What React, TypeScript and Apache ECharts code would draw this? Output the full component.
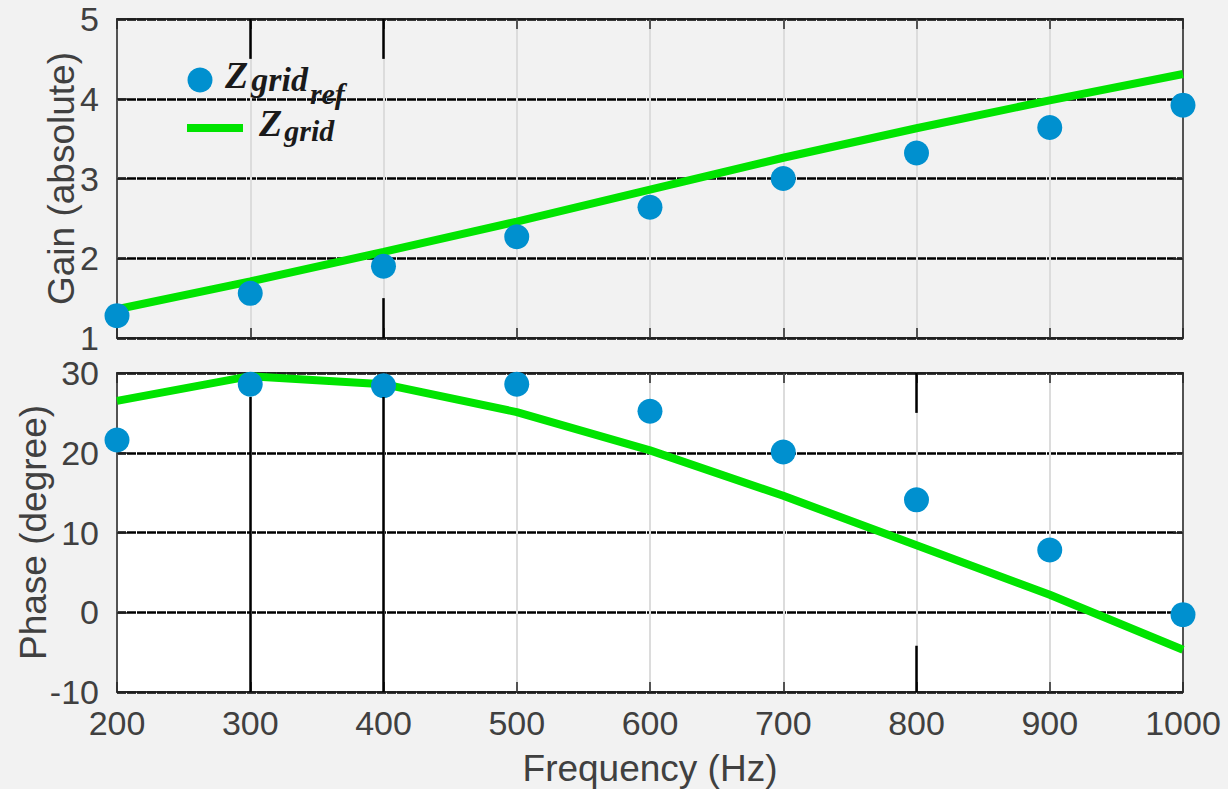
import React, { useEffect, useRef } from "react";
import * as echarts from "echarts";

const freqs = [200, 300, 400, 500, 600, 700, 800, 900, 1000];
const gainRef = [1.28, 1.56, 1.9, 2.27, 2.64, 3.0, 3.32, 3.64, 3.92];
const gainModel = [1.36, 1.71, 2.08, 2.46, 2.86, 3.26, 3.63, 3.98, 4.31];
const phaseRef = [21.6, 28.6, 28.4, 28.6, 25.2, 20.1, 14.1, 7.8, -0.3];
const phaseModel = [26.5, 29.6, 28.6, 25.1, 20.3, 14.6, 8.4, 2.2, -4.7];
const gainTicks = { min: 1, max: 5, interval: 1 };
const phaseTicks = { min: -10, max: 30, interval: 10 };
const freqTicks = { min: 200, max: 1000, interval: 100 };
// dark gridline segments visible in the original rendering (data coords)
const darkPhaseSegments = [
  [300, 27, 300, -10],
  [400, 27, 400, -10],
  [800, 30, 800, 25],
  [800, -4.2, 800, -10],
];
const darkGainSegments = [
  [300, 5, 300, 4.5],
  [400, 5, 400, 4.5],
  [400, 1.5, 400, 1],
];

const BLUE = "#0090cf";
const GREEN = "#00e400";
const TXT = "#404040";
const FONT = "'Liberation Sans', Arial, sans-serif";
const SERIF = "'Liberation Serif', 'Times New Roman', serif";

export default function App() {
  const ref = useRef<HTMLDivElement>(null);
  useEffect(() => {
    const chart = echarts.init(ref.current!, null, { renderer: "svg" });
    const pair = (xs: number[], ys: number[]) => xs.map((x, i) => [x, ys[i]]);
    const segs = (s: number[][]) =>
      s.map((a) => [{ coord: [a[0], a[1]] }, { coord: [a[2], a[3]] }]);

    const tick = { show: true, inside: true, length: 10, lineStyle: { color: "#262626", width: 1.5 } };
    const line = { show: true, onZero: false, lineStyle: { color: "#262626", width: 1.5 } };

    const mainX = (gridIndex: number, showLabels: boolean, name?: string) => ({
      type: "value",
      gridIndex,
      ...freqTicks,
      position: "bottom",
      name: name || "",
      nameLocation: "middle",
      nameGap: 58,
      nameTextStyle: { color: TXT, fontSize: 37, fontFamily: FONT },
      axisLine: line,
      axisTick: tick,
      axisLabel: {
        show: showLabels,
        color: TXT,
        fontSize: 34,
        fontFamily: FONT,
        margin: 14,
        formatter: (v: number) => String(v),
      },
      splitLine: { show: true, lineStyle: { color: "#dcdcdc", width: 2 } },
    });
    const topX = (gridIndex: number) => ({
      type: "value",
      gridIndex,
      ...freqTicks,
      position: "top",
      axisLine: line,
      axisTick: tick,
      axisLabel: { show: false },
      splitLine: { show: false },
    });
    const mainY = (gridIndex: number, ticks: any, name: string, gap: number) => ({
      type: "value",
      gridIndex,
      ...ticks,
      position: "left",
      name,
      nameLocation: "middle",
      nameGap: gap,
      nameMoveOverlap: false,
      nameTextStyle: { color: TXT, fontSize: 37, fontFamily: FONT },
      axisLine: line,
      axisTick: tick,
      axisLabel: { color: TXT, fontSize: 34, fontFamily: FONT, margin: 18 },
      splitLine: { show: true, lineStyle: { color: "#000000", width: 2.5, type: [9, 1] } },
    });
    const rightY = (gridIndex: number, ticks: any) => ({
      type: "value",
      gridIndex,
      ...ticks,
      position: "right",
      axisLine: line,
      axisTick: tick,
      axisLabel: { show: false },
      splitLine: { show: false },
    });

    const darkLine = (s: number[][]) => ({
      silent: true,
      symbol: ["none", "none"],
      label: { show: false },
      lineStyle: { color: "#000", width: 2.5, type: "solid" },
      data: segs(s),
    });

    chart.setOption({
      animation: false,
      backgroundColor: "#f2f2f2",
      grid: [
        { left: 117, top: 19, width: 1066, height: 319, show: true, backgroundColor: "#f2f2f2", borderColor: "#262626", borderWidth: 1.5, containLabel: false, outerBoundsMode: "none" },
        { left: 117, top: 373, width: 1066, height: 319, show: true, backgroundColor: "#ffffff", borderColor: "#262626", borderWidth: 1.5, containLabel: false, outerBoundsMode: "none" },
      ],
      xAxis: [mainX(0, false), topX(0), mainX(1, true, "Frequency (Hz)"), topX(1)],
      yAxis: [
        mainY(0, gainTicks, "Gain (absolute)", 37),
        rightY(0, gainTicks),
        mainY(1, phaseTicks, "Phase (degree)", 65),
        rightY(1, phaseTicks),
      ],
      series: [
        {
          type: "line",
          xAxisIndex: 0,
          yAxisIndex: 0,
          data: pair(freqs, gainRef),
          lineStyle: { opacity: 0 },
          symbol: "none",
          markLine: darkLine(darkGainSegments),
          z: 1,
        },
        {
          type: "line",
          xAxisIndex: 2,
          yAxisIndex: 2,
          data: pair(freqs, phaseRef),
          lineStyle: { opacity: 0 },
          symbol: "none",
          markLine: darkLine(darkPhaseSegments),
          z: 1,
        },
        {
          name: "Zgrid",
          type: "line",
          xAxisIndex: 0,
          yAxisIndex: 0,
          data: pair(freqs, gainModel),
          showSymbol: false,
          symbol: "none",
          lineStyle: { color: GREEN, width: 8 },
          z: 3,
        },
        {
          name: "Zgrid_ref",
          type: "scatter",
          xAxisIndex: 0,
          yAxisIndex: 0,
          data: pair(freqs, gainRef),
          symbol: "circle",
          symbolSize: 25,
          itemStyle: { color: BLUE, opacity: 1 },
          z: 4,
        },
        {
          name: "Zgrid",
          type: "line",
          xAxisIndex: 2,
          yAxisIndex: 2,
          data: pair(freqs, phaseModel),
          showSymbol: false,
          symbol: "none",
          lineStyle: { color: GREEN, width: 8 },
          z: 3,
        },
        {
          name: "Zgrid_ref",
          type: "scatter",
          xAxisIndex: 2,
          yAxisIndex: 2,
          data: pair(freqs, phaseRef),
          symbol: "circle",
          symbolSize: 25,
          itemStyle: { color: BLUE, opacity: 1 },
          z: 4,
        },
      ],
      graphic: [
        { type: "circle", shape: { cx: 200, cy: 80, r: 12.5 }, style: { fill: BLUE }, z: 10 },
        { type: "rect", shape: { x: 187, y: 124, width: 56, height: 8 }, style: { fill: GREEN }, z: 10 },
        {
          type: "text",
          left: 225,
          top: 56,
          z: 10,
          style: {
            text: "{z|Z}{g|grid}{r|ref}",
            rich: {
              z: { fontFamily: SERIF, fontStyle: "italic", fontWeight: "bold", fontSize: 38, fill: "#1a1a1a", verticalAlign: "bottom", lineHeight: 40 },
              g: { fontFamily: SERIF, fontStyle: "italic", fontWeight: "bold", fontSize: 34, fill: "#1a1a1a", verticalAlign: "bottom", lineHeight: 40, padding: [0, 0, -2, 3] },
              r: { fontFamily: SERIF, fontStyle: "italic", fontWeight: "bold", fontSize: 30, fill: "#1a1a1a", verticalAlign: "bottom", lineHeight: 40, padding: [0, 0, -14, 2] },
            },
          },
        },
        {
          type: "text",
          left: 259,
          top: 104,
          z: 10,
          style: {
            text: "{z|Z}{g|grid}",
            rich: {
              z: { fontFamily: SERIF, fontStyle: "italic", fontWeight: "bold", fontSize: 38, fill: "#1a1a1a", verticalAlign: "bottom", lineHeight: 40 },
              g: { fontFamily: SERIF, fontStyle: "italic", fontWeight: "bold", fontSize: 30, fill: "#1a1a1a", verticalAlign: "bottom", lineHeight: 40, padding: [0, 0, -3, 2] },
            },
          },
        },
      ],
    });
    return () => chart.dispose();
  }, []);
  return (
    <div
      ref={ref}
      style={{ position: "fixed", left: 0, top: 0, width: 1228, height: 789 }}
    />
  );
}
